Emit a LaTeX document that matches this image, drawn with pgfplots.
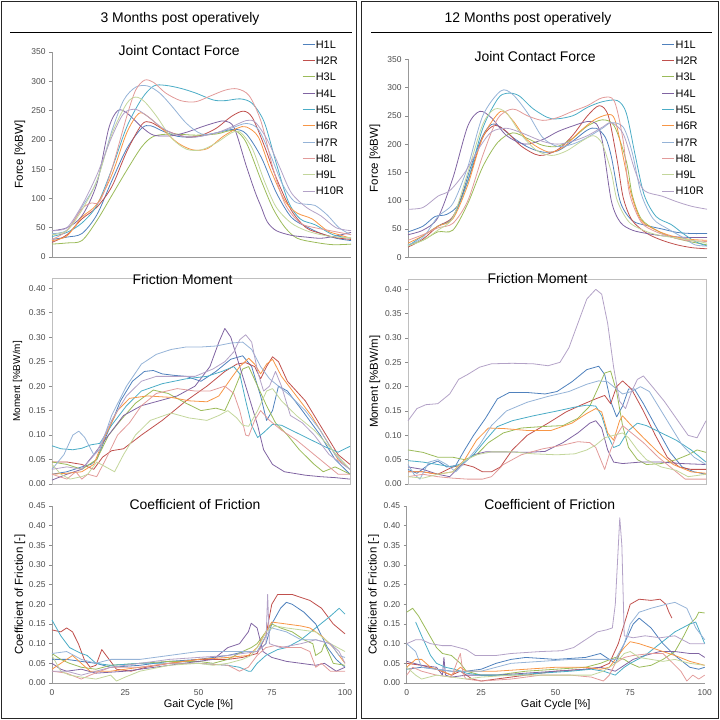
\documentclass[border=0pt]{standalone}
\usepackage{pgfplots}
\pgfplotsset{compat=1.18}
\usepackage{fontspec}
\setmainfont{Liberation Sans}
\definecolor{c1}{HTML}{4F81BD}
\definecolor{c2}{HTML}{C0504D}
\definecolor{c3}{HTML}{9BBB59}
\definecolor{c4}{HTML}{8064A2}
\definecolor{c5}{HTML}{4BACC6}
\definecolor{c6}{HTML}{F79646}
\definecolor{c7}{HTML}{95B3D7}
\definecolor{c8}{HTML}{E29B9A}
\definecolor{c9}{HTML}{C3D69B}
\definecolor{c10}{HTML}{B3A2C7}
\pgfplotsset{
 ylab/.style={every axis y label/.style={at={(rel axis cs:0,0.5)}, xshift=#1, rotate=90, anchor=center, font=\fontsize{11.5}{12}\selectfont}},
 base/.style={scale only axis, xmin=0, xmax=100,
  axis lines=left, axis line style={-, draw=black!40, line width=0.6bp},
  tick align=outside, ytick style={draw=black!45, line width=0.6bp}, xtick style={draw=none},
  major tick length=3bp, xtick={0,25,50,75,100},
  ticklabel style={font=\fontsize{8.5}{9}\selectfont, text=black!70},
  /pgf/number format/assume math mode=true,
  title style={font=\fontsize{14}{15}\selectfont, anchor=center},
  ylab=-32bp,
  every axis plot/.append style={line width=0.8bp, line join=round},
  clip=false},
 force/.style={base, ymin=0, ymax=350, ytick={0,50,...,350}, xticklabel=\empty, ylabel={Force [\%BW]},
  legend style={draw=none, fill=none, inner sep=0pt, row sep=6.7bp,
   font=\fontsize{11}{11}\selectfont, nodes={inner sep=0.8bp, text height=8bp, text depth=0bp}},
  legend cell align=left,
  legend image code/.code={\draw[##1] (0bp,0bp) -- (12bp,0bp);}},
 mom/.style={base, axis lines=box, axis line style={-, draw=black!25, line width=0.6bp}, tick pos=left,
  ymin=0, ymax=0.42, ytick={0,0.05,0.10,0.15,0.20,0.25,0.30,0.35,0.40}, xticklabel=\empty,
  yticklabel style={/pgf/number format/.cd, fixed, fixed zerofill, precision=2},
  ylabel={Moment [\%BW/m]}},
 cof/.style={base, ymin=0, ymax=0.45, ytick={0,0.05,0.10,0.15,0.20,0.25,0.30,0.35,0.40,0.45},
  yticklabel style={/pgf/number format/.cd, fixed, fixed zerofill, precision=2},
  ylabel={Coefficient of Friction [-]}, xlabel={Gait Cycle [\%]},
  every axis x label/.style={at={(rel axis cs:0.5,0)}, yshift=-22bp, anchor=center, font=\fontsize{11}{12}\selectfont}},
}
\begin{document}
\begin{tikzpicture}
\useasboundingbox (0bp,0bp) rectangle (720bp,720bp);
% panel frames
\draw[line width=1.6bp, black!85] (1.5bp,1.5bp) rectangle (356.5bp,718.5bp);
\draw[line width=1.6bp, black!85] (361.5bp,1.5bp) rectangle (718.5bp,718.5bp);
\draw[line width=1.2bp] (10bp,687.5bp) -- (352bp,687.5bp);
\draw[line width=1.2bp] (371bp,687.5bp) -- (712bp,687.5bp);
\node[font=\fontsize{14}{15}\selectfont] at (180bp,701bp) {3 Months post operatively};
\node[font=\fontsize{14}{15}\selectfont] at (528bp,701bp) {12 Months post operatively};

%================ LEFT FORCE
\begin{axis}[force, at={(52bp,463bp)}, anchor=south west, width=299bp, height=205bp,
 title={Joint Contact Force}, title style={at={(rel axis cs:0.425,0.976)}},
 legend style={at={(rel axis cs:0.836,1.062)}, anchor=north west}]
\addplot[c1,smooth] coordinates {(0,30)(5,34)(10,40)(15,72)(20,130)(25,185)(30,220)(33,224)(37,215)(42,206)(48,205)(55,212)(61,218)(65,210)(70,170)(75,110)(80,68)(85,52)(90,40)(95,32)(100,28)};
\addlegendentry{H1L}
\addplot[c2,smooth] coordinates {(0,25)(5,38)(10,65)(15,85)(20,120)(25,180)(30,226)(33,230)(38,216)(45,205)(50,208)(55,220)(60,240)(64,249)(67,238)(71,190)(75,135)(80,80)(85,50)(90,40)(95,33)(100,30)};
\addlegendentry{H2R}
\addplot[c3,smooth] coordinates {(0,22)(5,24)(10,28)(15,62)(20,105)(25,148)(30,188)(34,206)(40,210)(48,208)(55,210)(61,216)(65,195)(70,130)(74,82)(78,50)(82,32)(88,25)(94,21)(100,22)};
\addlegendentry{H3L}
\addplot[c4,smooth] coordinates {(0,45)(5,50)(10,70)(15,125)(19,220)(22,250)(25,246)(30,222)(34,208)(40,207)(45,213)(50,222)(55,230)(58,232)(61,220)(65,155)(68,110)(70,85)(72,60)(75,45)(80,37)(85,34)(90,32)(95,36)(100,42)};
\addlegendentry{H4L}
\addplot[c5,smooth] coordinates {(0,35)(5,42)(10,58)(15,88)(20,150)(25,222)(30,270)(34,292)(38,293)(43,288)(48,280)(54,268)(58,267)(63,270)(67,262)(71,230)(75,160)(79,95)(83,65)(88,55)(94,38)(100,32)};
\addlegendentry{H5L}
\addplot[c6,smooth] coordinates {(0,28)(5,36)(10,68)(15,90)(20,140)(25,212)(29,245)(32,240)(37,218)(42,195)(47,183)(52,185)(57,205)(62,220)(65,222)(69,205)(73,150)(78,95)(82,75)(87,65)(92,45)(96,38)(100,32)};
\addlegendentry{H6R}
\addplot[c7,smooth] coordinates {(0,40)(5,46)(10,85)(15,130)(20,215)(24,268)(28,290)(32,292)(36,280)(40,258)(45,228)(50,210)(55,212)(60,220)(65,228)(69,218)(73,175)(77,125)(81,95)(85,90)(88,88)(92,72)(96,50)(100,38)};
\addlegendentry{H7R}
\addplot[c8,smooth] coordinates {(0,30)(5,45)(10,82)(13,92)(16,95)(20,150)(25,240)(28,285)(31,302)(34,298)(38,280)(43,267)(48,265)(53,275)(58,285)(62,287)(66,275)(70,230)(74,150)(78,90)(83,58)(88,50)(93,45)(100,38)};
\addlegendentry{H8L}
\addplot[c9,smooth] coordinates {(0,38)(5,45)(10,80)(15,130)(20,210)(25,262)(28,273)(31,265)(35,240)(40,203)(45,184)(50,183)(55,195)(60,212)(63,213)(67,185)(71,130)(75,85)(80,58)(85,45)(90,38)(95,34)(100,33)};
\addlegendentry{H9L}
\addplot[c10,smooth] coordinates {(0,45)(5,50)(10,88)(15,140)(20,205)(24,245)(28,252)(32,240)(37,220)(42,208)(48,205)(55,212)(60,222)(65,233)(68,230)(72,200)(76,155)(80,110)(85,85)(90,70)(95,50)(100,45)};
\addlegendentry{H10R}
\end{axis}

%================ RIGHT FORCE
\begin{axis}[force, at={(408bp,462.7bp)}, anchor=south west, width=299bp, height=198bp, ylab=-33bp,
 title={Joint Contact Force}, title style={at={(rel axis cs:0.425,0.985)}},
 legend style={at={(rel axis cs:0.849,1.101)}, anchor=north west}]
\addplot[c1,smooth] coordinates {(0,45)(5,55)(9,72)(13,76)(17,95)(21,160)(25,215)(28,235)(31,230)(35,212)(40,195)(45,186)(50,188)(55,205)(60,225)(63,228)(66,212)(68,178)(71,98)(75,65)(80,56)(85,50)(90,44)(95,42)(100,42)};
\addlegendentry{H1L}
\addplot[c2,smooth] coordinates {(0,18)(5,32)(10,55)(15,72)(20,135)(25,212)(29,233)(33,222)(38,196)(44,180)(50,190)(55,215)(60,250)(64,268)(67,250)(70,170)(72,105)(75,65)(80,42)(85,30)(90,22)(95,17)(100,15)};
\addlegendentry{H2R}
\addplot[c3,smooth] coordinates {(0,22)(5,30)(10,45)(15,48)(20,95)(25,160)(30,203)(35,220)(40,210)(45,198)(50,196)(55,210)(60,232)(65,243)(69,232)(73,170)(75,110)(78,68)(83,48)(88,36)(94,28)(100,22)};
\addlegendentry{H3L}
\addplot[c4,smooth] coordinates {(0,40)(5,48)(10,70)(15,140)(20,232)(24,258)(28,246)(33,215)(39,200)(45,208)(50,222)(55,232)(60,240)(63,236)(65,205)(68,100)(71,62)(75,48)(80,42)(85,38)(90,36)(95,35)(100,35)};
\addlegendentry{H4L}
\addplot[c5,smooth] coordinates {(0,20)(5,38)(10,55)(15,70)(20,135)(25,228)(30,280)(33,290)(37,286)(42,262)(48,245)(55,250)(60,265)(65,275)(70,277)(73,255)(76,180)(79,110)(83,72)(88,58)(92,42)(96,28)(100,20)};
\addlegendentry{H5L}
\addplot[c6,smooth] coordinates {(0,25)(5,38)(10,55)(15,68)(20,128)(25,212)(31,258)(35,242)(40,207)(47,186)(52,195)(58,225)(63,245)(68,252)(70,228)(73,150)(75,105)(78,65)(83,48)(88,38)(94,32)(100,30)};
\addlegendentry{H6R}
\addplot[c7,smooth] coordinates {(0,22)(5,35)(10,72)(15,95)(20,160)(25,250)(31,294)(35,288)(40,255)(45,212)(50,196)(55,200)(60,212)(65,228)(68,238)(72,230)(75,185)(78,112)(82,68)(87,50)(92,35)(96,22)(100,20)};
\addlegendentry{H7R}
\addplot[c8,smooth] coordinates {(0,30)(5,40)(10,52)(15,60)(20,100)(25,180)(30,245)(35,262)(40,250)(45,242)(50,247)(55,258)(60,268)(65,282)(69,276)(72,205)(74,115)(78,62)(83,45)(88,36)(93,30)(100,28)};
\addlegendentry{H8L}
\addplot[c9,smooth] coordinates {(0,20)(5,30)(10,48)(15,70)(20,150)(25,235)(29,262)(33,255)(38,216)(43,189)(48,180)(53,188)(58,205)(62,215)(65,200)(68,150)(70,100)(74,62)(80,45)(85,38)(90,34)(95,30)(100,25)};
\addlegendentry{H9L}
\addplot[c10,smooth] coordinates {(0,85)(5,88)(10,108)(14,118)(19,150)(24,195)(28,222)(33,228)(38,220)(45,205)(50,200)(55,205)(60,215)(65,230)(68,238)(72,218)(76,152)(79,118)(85,108)(90,98)(95,90)(100,85)};
\addlegendentry{H10R}
\end{axis}

%================ LEFT MOMENT
\begin{axis}[mom, at={(52bp,236bp)}, anchor=south west, width=298bp, height=205.5bp,
 title={Friction Moment}, title style={at={(rel axis cs:0.438,0.968)}}]
\addplot[c1] coordinates {(0,0.02)(5,0.025)(10,0.035)(13,0.04)(15,0.05)(19,0.11)(23,0.17)(27,0.21)(31,0.23)(34,0.232)(37,0.225)(41,0.222)(45,0.22)(50,0.21)(55,0.23)(60,0.255)(64,0.262)(67,0.24)(70,0.18)(72,0.13)(74,0.15)(76,0.2)(79,0.19)(84,0.15)(90,0.1)(95,0.05)(100,0.02)};
\addplot[c2] coordinates {(0,0.045)(5,0.045)(10,0.04)(14,0.03)(17,0.055)(20,0.068)(24,0.072)(30,0.1)(37,0.13)(45,0.17)(52,0.2)(58,0.23)(62,0.245)(65,0.248)(68,0.24)(70,0.215)(72,0.24)(74,0.26)(76,0.25)(79,0.21)(85,0.17)(91,0.11)(96,0.06)(100,0.04)};
\addplot[c3] coordinates {(0,0.045)(5,0.04)(10,0.03)(15,0.05)(19,0.1)(23,0.13)(28,0.165)(34,0.192)(39,0.185)(45,0.165)(50,0.15)(55,0.155)(58,0.15)(61,0.19)(64,0.235)(66,0.24)(69,0.2)(72,0.16)(75,0.125)(79,0.1)(83,0.07)(88,0.04)(91,0.025)(95,0.035)(100,0.02)};
\addplot[c4] coordinates {(0,0.008)(5,0.02)(10,0.03)(14,0.06)(19,0.1)(24,0.14)(30,0.16)(36,0.17)(42,0.18)(48,0.2)(53,0.24)(56,0.29)(58,0.318)(60,0.3)(63,0.24)(66,0.18)(69,0.12)(71,0.07)(74,0.04)(78,0.025)(85,0.018)(90,0.015)(95,0.013)(100,0.01)};
\addplot[c5] coordinates {(0,0.078)(3,0.072)(7,0.07)(10,0.073)(13,0.08)(16,0.083)(20,0.12)(25,0.16)(30,0.19)(37,0.205)(45,0.215)(52,0.22)(57,0.23)(61,0.24)(63,0.225)(65,0.17)(67,0.12)(69,0.095)(71,0.105)(74,0.122)(77,0.12)(82,0.105)(87,0.09)(92,0.075)(96,0.065)(100,0.077)};
\addplot[c6] coordinates {(0,0.02)(5,0.022)(10,0.025)(14,0.04)(18,0.1)(22,0.15)(26,0.175)(32,0.18)(40,0.177)(46,0.17)(52,0.168)(56,0.18)(60,0.215)(63,0.24)(66,0.257)(68,0.245)(70,0.225)(72,0.245)(74,0.255)(77,0.22)(82,0.18)(87,0.14)(92,0.09)(96,0.05)(100,0.03)};
\addplot[c7] coordinates {(0,0.03)(4,0.06)(7,0.1)(9,0.108)(11,0.095)(14,0.06)(16,0.07)(20,0.14)(25,0.2)(30,0.245)(35,0.265)(40,0.275)(45,0.28)(50,0.28)(55,0.282)(60,0.288)(64,0.29)(67,0.275)(70,0.24)(73,0.215)(76,0.2)(80,0.18)(85,0.15)(90,0.11)(95,0.06)(100,0.03)};
\addplot[c8] coordinates {(0,0.02)(5,0.01)(8,0.025)(10,0.01)(12,0.02)(15,0.015)(18,0.05)(22,0.1)(26,0.125)(30,0.16)(35,0.185)(42,0.195)(48,0.19)(53,0.19)(58,0.2)(61,0.185)(63,0.15)(65,0.1)(66,0.098)(68,0.13)(70,0.15)(73,0.13)(77,0.11)(82,0.09)(87,0.065)(92,0.04)(96,0.02)(100,0.02)};
\addplot[c9] coordinates {(0,0.04)(3,0.02)(6,0.01)(10,0.015)(12,0.02)(15,0.045)(18,0.035)(21,0.025)(24,0.06)(28,0.1)(33,0.13)(40,0.145)(46,0.135)(52,0.13)(56,0.14)(59,0.15)(62,0.135)(64,0.12)(66,0.118)(69,0.15)(72,0.19)(74,0.195)(77,0.17)(82,0.14)(88,0.11)(94,0.07)(100,0.03)};
\addplot[c10] coordinates {(0,0.03)(5,0.035)(10,0.03)(15,0.065)(20,0.13)(25,0.18)(30,0.21)(35,0.22)(42,0.22)(48,0.22)(54,0.235)(58,0.25)(61,0.27)(63,0.295)(65,0.305)(67,0.29)(69,0.23)(71,0.19)(73,0.2)(75,0.23)(77,0.2)(80,0.14)(84,0.125)(88,0.1)(93,0.06)(100,0.03)};
\end{axis}

%================ RIGHT MOMENT
\begin{axis}[mom, at={(408bp,236bp)}, anchor=south west, width=298bp, height=204.4bp, ylab=-33bp,
 title={Friction Moment}, title style={at={(rel axis cs:0.435,0.974)}}]
\addplot[c1] coordinates {(0,0.03)(3,0.022)(7,0.04)(10,0.047)(13,0.035)(16,0.038)(19,0.07)(22,0.1)(26,0.135)(30,0.175)(34,0.188)(40,0.188)(46,0.185)(50,0.19)(55,0.21)(60,0.235)(64,0.242)(66,0.225)(68,0.17)(70,0.138)(72,0.16)(74,0.195)(76,0.195)(79,0.165)(83,0.12)(88,0.065)(92,0.035)(96,0.025)(100,0.02)};
\addplot[c2] coordinates {(0,0.025)(5,0.025)(10,0.02)(15,0.035)(19,0.04)(22,0.035)(25,0.025)(28,0.025)(31,0.035)(35,0.07)(40,0.1)(47,0.125)(53,0.148)(58,0.162)(63,0.175)(66,0.182)(68,0.165)(70,0.2)(72,0.212)(75,0.195)(79,0.15)(83,0.1)(87,0.055)(91,0.035)(95,0.03)(100,0.03)};
\addplot[c3] coordinates {(0,0.07)(5,0.065)(10,0.055)(15,0.055)(19,0.05)(23,0.06)(27,0.085)(32,0.105)(38,0.115)(45,0.118)(52,0.12)(57,0.135)(61,0.16)(64,0.2)(66,0.228)(68,0.232)(70,0.19)(72,0.12)(74,0.075)(77,0.05)(80,0.04)(85,0.042)(90,0.05)(94,0.06)(97,0.07)(100,0.065)};
\addplot[c4] coordinates {(0,0.035)(5,0.03)(10,0.02)(14,0.015)(18,0.04)(22,0.06)(26,0.066)(33,0.066)(40,0.065)(46,0.067)(52,0.085)(57,0.105)(61,0.125)(63,0.13)(65,0.115)(67,0.07)(69,0.045)(72,0.042)(78,0.045)(85,0.045)(92,0.042)(100,0.04)};
\addplot[c5] coordinates {(0,0.048)(5,0.045)(10,0.04)(15,0.035)(19,0.045)(22,0.06)(26,0.09)(30,0.118)(35,0.13)(42,0.14)(50,0.15)(56,0.158)(60,0.162)(63,0.16)(65,0.14)(67,0.1)(69,0.075)(71,0.08)(74,0.11)(77,0.125)(80,0.12)(85,0.105)(90,0.09)(95,0.07)(100,0.045)};
\addplot[c6] coordinates {(0,0.025)(5,0.025)(10,0.02)(15,0.025)(19,0.05)(23,0.09)(27,0.115)(32,0.114)(40,0.11)(48,0.11)(55,0.125)(60,0.145)(63,0.155)(65,0.148)(67,0.105)(69,0.09)(71,0.13)(72,0.14)(75,0.12)(79,0.095)(84,0.065)(89,0.04)(95,0.025)(100,0.022)};
\addplot[c7] coordinates {(0,0.04)(2,0.02)(4,0.01)(7,0.045)(10,0.05)(13,0.04)(16,0.025)(20,0.05)(24,0.08)(28,0.12)(33,0.15)(40,0.168)(47,0.18)(54,0.19)(60,0.205)(64,0.212)(67,0.21)(70,0.195)(72,0.185)(75,0.19)(78,0.2)(81,0.19)(85,0.15)(88,0.12)(92,0.08)(96,0.055)(100,0.04)};
\addplot[c8] coordinates {(0,0.015)(5,0.02)(10,0.015)(15,0.012)(20,0.01)(25,0.01)(28,0.015)(32,0.04)(38,0.06)(45,0.072)(52,0.08)(57,0.087)(61,0.085)(63,0.075)(65,0.045)(66,0.03)(68,0.07)(70,0.1)(72,0.12)(75,0.105)(79,0.085)(84,0.055)(89,0.03)(93,0.01)(96,0.01)(100,0.01)};
\addplot[c9] coordinates {(0,0.015)(5,0.012)(10,0.02)(15,0.025)(19,0.048)(23,0.06)(28,0.066)(35,0.066)(42,0.062)(50,0.06)(56,0.062)(60,0.07)(63,0.08)(66,0.095)(69,0.1)(72,0.105)(74,0.095)(77,0.07)(80,0.05)(85,0.035)(90,0.028)(94,0.015)(100,0.02)};
\addplot[c10] coordinates {(0,0.13)(3,0.155)(6,0.163)(10,0.165)(14,0.185)(17,0.215)(20,0.225)(24,0.24)(28,0.247)(35,0.248)(42,0.247)(47,0.243)(51,0.25)(54,0.28)(57,0.33)(60,0.38)(63,0.4)(65,0.39)(67,0.33)(69,0.24)(71,0.17)(73,0.155)(75,0.19)(77,0.215)(79,0.222)(82,0.2)(86,0.17)(90,0.135)(94,0.1)(97,0.095)(100,0.13)};
\end{axis}

%================ LEFT COF
\begin{axis}[cof, at={(52bp,37bp)}, anchor=south west, width=293bp, height=177bp,
 title={Coefficient of Friction}, title style={at={(rel axis cs:0.488,0.973)}}]
\addplot[c1] coordinates {(0,0.06)(5,0.06)(10,0.055)(15,0.05)(20,0.04)(30,0.045)(40,0.055)(50,0.06)(60,0.07)(66,0.08)(70,0.08)(73,0.1)(75,0.15)(78,0.19)(80,0.205)(82,0.2)(86,0.18)(90,0.15)(94,0.09)(97,0.06)(100,0.04)};
\addplot[c2] coordinates {(0,0.135)(3,0.13)(5,0.14)(7,0.13)(9,0.1)(11,0.06)(13,0.04)(15,0.045)(17,0.085)(19,0.065)(22,0.035)(27,0.03)(32,0.04)(40,0.05)(50,0.06)(60,0.06)(65,0.065)(70,0.075)(73,0.12)(75,0.2)(77,0.225)(82,0.225)(88,0.21)(92,0.19)(96,0.15)(100,0.125)};
\addplot[c3] coordinates {(0,0.075)(3,0.06)(6,0.05)(10,0.04)(15,0.035)(20,0.045)(30,0.05)(40,0.055)(50,0.055)(55,0.05)(60,0.06)(65,0.08)(68,0.09)(70,0.1)(73,0.13)(75,0.15)(78,0.14)(82,0.13)(86,0.11)(89,0.1)(90,0.07)(92,0.08)(93,0.1)(96,0.05)(100,0.045)};
\addplot[c4] coordinates {(0,0.05)(3,0.035)(5,0.03)(10,0.035)(15,0.025)(25,0.03)(35,0.04)(45,0.05)(55,0.06)(60,0.09)(64,0.1)(67,0.13)(68,0.152)(70,0.14)(72,0.08)(75,0.065)(80,0.055)(85,0.05)(90,0.045)(93,0.05)(97,0.03)(100,0.04)};
\addplot[c5] coordinates {(0,0.16)(3,0.12)(6,0.09)(10,0.075)(12,0.07)(15,0.05)(20,0.045)(30,0.05)(40,0.05)(50,0.05)(60,0.045)(64,0.04)(67,0.03)(68,0.03)(70,0.05)(73,0.07)(77,0.085)(80,0.09)(85,0.11)(90,0.14)(95,0.17)(98,0.19)(100,0.175)};
\addplot[c6] coordinates {(0,0.035)(5,0.06)(7,0.07)(10,0.05)(13,0.03)(20,0.03)(30,0.04)(40,0.05)(50,0.06)(60,0.065)(67,0.07)(70,0.09)(73,0.13)(75,0.155)(80,0.15)(85,0.145)(88,0.14)(92,0.12)(96,0.09)(100,0.05)};
\addplot[c7] coordinates {(0,0.075)(5,0.08)(10,0.06)(15,0.05)(20,0.06)(30,0.06)(40,0.07)(50,0.08)(60,0.08)(65,0.08)(70,0.08)(73,0.12)(75,0.14)(80,0.13)(85,0.11)(90,0.11)(95,0.1)(98,0.07)(100,0.065)};
\addplot[c8] coordinates {(0,0.03)(5,0.025)(10,0.01)(13,0.02)(20,0.04)(30,0.04)(40,0.05)(50,0.05)(60,0.045)(64,0.03)(67,0.04)(70,0.07)(73,0.09)(76,0.095)(80,0.09)(85,0.09)(88,0.08)(90,0.04)(92,0.05)(95,0.03)(100,0.03)};
\addplot[c9] coordinates {(0,0.07)(3,0.03)(6,0.02)(10,0.015)(15,0.01)(20,0.02)(22,0.005)(25,0.015)(30,0.03)(40,0.045)(50,0.05)(55,0.045)(60,0.05)(65,0.06)(68,0.07)(71,0.1)(73,0.13)(76,0.145)(80,0.14)(85,0.135)(90,0.13)(95,0.1)(100,0.08)};
\addplot[c10] coordinates {(0,0.03)(5,0.03)(10,0.02)(15,0.03)(20,0.04)(30,0.05)(40,0.06)(50,0.065)(60,0.07)(70,0.08)(73,0.1)(73.6,0.225)(74.2,0.1)(78,0.09)(85,0.1)(90,0.11)(95,0.1)(98,0.08)(100,0.05)};
\end{axis}

%================ RIGHT COF
\begin{axis}[cof, at={(406.7bp,37bp)}, anchor=south west, width=298bp, height=177bp, ylab=-33bp,
 title={Coefficient of Friction}, title style={at={(rel axis cs:0.48,0.973)}}]
\addplot[c1] coordinates {(0,0.035)(5,0.04)(10,0.035)(15,0.03)(20,0.03)(25,0.035)(30,0.05)(35,0.06)(40,0.065)(50,0.06)(60,0.065)(65,0.075)(67,0.065)(70,0.05)(73,0.1)(76,0.15)(78,0.165)(82,0.14)(86,0.1)(90,0.07)(95,0.04)(98,0.035)(100,0.04)};
\addplot[c2] coordinates {(0,0.05)(5,0.045)(10,0.035)(15,0.02)(18,0.03)(20,0.02)(22,0.01)(25,0.005)(30,0.01)(40,0.02)(50,0.03)(60,0.035)(65,0.04)(68,0.05)(71,0.1)(73,0.15)(75,0.2)(78,0.213)(82,0.21)(85,0.213)(87,0.2)(88,0.18)(89,0.165)};
\addplot[c3] coordinates {(0,0.18)(2,0.19)(4,0.17)(7,0.13)(10,0.09)(12,0.075)(15,0.07)(18,0.05)(20,0.03)(25,0.02)(30,0.02)(40,0.03)(50,0.035)(60,0.04)(65,0.05)(70,0.065)(73,0.06)(75,0.05)(78,0.04)(82,0.045)(86,0.06)(90,0.08)(93,0.12)(95,0.15)(97,0.165)(98,0.18)(100,0.178)};
\addplot[c4] coordinates {(0,0.055)(5,0.045)(10,0.04)(12,0.02)(12.5,0.065)(13,0.02)(15,0.015)(20,0.02)(30,0.02)(40,0.025)(50,0.03)(60,0.035)(65,0.04)(70,0.03)(73,0.045)(76,0.06)(80,0.07)(85,0.08)(90,0.08)(95,0.075)(98,0.075)(100,0.065)};
\addplot[c5] coordinates {(3,0.155)(5,0.12)(8,0.07)(10,0.05)(13,0.04)(16,0.035)(20,0.025)(25,0.02)(35,0.02)(45,0.025)(55,0.03)(62,0.035)(66,0.03)(70,0.02)(73,0.04)(75,0.05)(80,0.07)(85,0.1)(90,0.13)(95,0.15)(97,0.155)(100,0.1)};
\addplot[c6] coordinates {(0,0.04)(3,0.06)(5,0.06)(8,0.04)(12,0.03)(15,0.02)(18,0.04)(20,0.03)(30,0.03)(40,0.035)(50,0.04)(60,0.04)(65,0.035)(68,0.04)(70,0.06)(73,0.09)(75,0.105)(78,0.1)(82,0.09)(86,0.08)(90,0.07)(95,0.055)(100,0.045)};
\addplot[c7] coordinates {(0,0.1)(3,0.08)(5,0.04)(10,0.035)(15,0.03)(25,0.03)(35,0.05)(45,0.055)(55,0.06)(65,0.06)(70,0.06)(73,0.1)(75,0.15)(78,0.18)(82,0.19)(87,0.2)(90,0.205)(94,0.19)(97,0.14)(100,0.11)};
\addplot[c8] coordinates {(0,0.02)(2,0.04)(5,0.03)(10,0.02)(15,0.015)(18,0.075)(19,0.02)(20,0.01)(25,0.005)(35,0.01)(45,0.02)(55,0.02)(62,0.015)(66,0.005)(68,0.02)(70,0.05)(73,0.065)(76,0.07)(82,0.075)(86,0.075)(88,0.06)(92,0.03)(94,0.005)(96,0.02)(98,0.01)(100,0.02)};
\addplot[c9] coordinates {(0,0.04)(3,0.02)(5,0.01)(10,0.02)(15,0.015)(20,0.01)(25,0.015)(35,0.02)(45,0.02)(55,0.02)(62,0.02)(66,0.03)(70,0.05)(73,0.075)(75,0.08)(78,0.065)(82,0.06)(86,0.055)(90,0.06)(95,0.05)(100,0.045)};
\addplot[c10] coordinates {(0,0.1)(3,0.11)(5,0.11)(8,0.1)(12,0.095)(15,0.095)(20,0.085)(23,0.07)(30,0.07)(35,0.075)(45,0.08)(52,0.082)(56,0.09)(60,0.11)(64,0.13)(67,0.135)(69,0.14)(70,0.2)(71.5,0.42)(72.2,0.35)(73,0.12)(76,0.115)(80,0.12)(85,0.115)(90,0.12)(95,0.1)(100,0.1)};
\end{axis}
\end{tikzpicture}
\end{document}
